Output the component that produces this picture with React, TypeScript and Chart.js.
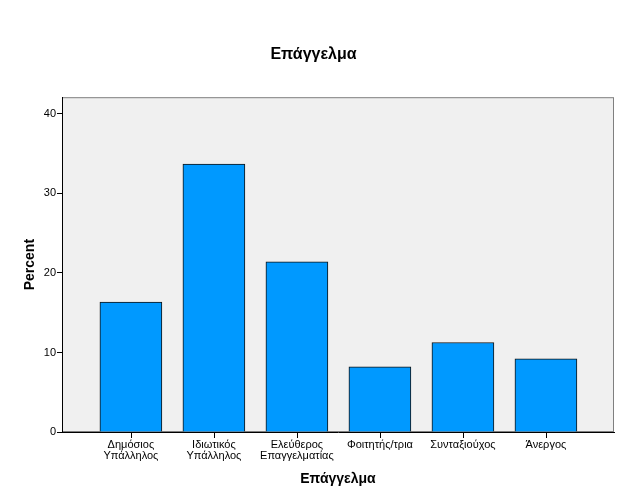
import React, { useEffect, useRef } from "react";
import { Chart, registerables } from "chart.js";

Chart.register(...registerables);

const categories: string[][] = [
  ["Δημόσιος", "Υπάλληλος"],
  ["Ιδιωτικός", "Υπάλληλος"],
  ["Ελεύθερος", "Επαγγελματίας"],
  ["Φοιτητής/τρια"],
  ["Συνταξιούχος"],
  ["Άνεργος"],
];
const percentValues: number[] = [16.35, 33.7, 21.4, 8.2, 11.25, 9.2];
const yTicks: number[] = [0, 10, 20, 30, 40];

const FONT = "'Liberation Sans', Arial, sans-serif";

const plotFrame = {
  id: "plotFrame",
  beforeDraw(chart: any) {
    const { ctx, chartArea } = chart;
    if (!chartArea) return;
    ctx.save();
    ctx.fillStyle = "#f0f0f0";
    ctx.fillRect(chartArea.left, chartArea.top, chartArea.right - chartArea.left, chartArea.bottom - chartArea.top);
    ctx.strokeStyle = "#7f7f7f";
    ctx.lineWidth = 1;
    ctx.strokeRect(chartArea.left + 0.5, chartArea.top + 0.5, chartArea.right - chartArea.left - 1, chartArea.bottom - chartArea.top - 1);
    ctx.restore();
  },
  afterDraw(chart: any) {
    const { ctx, chartArea } = chart;
    const xs = chart.scales.x;
    if (!chartArea || !xs) return;
    ctx.save();
    ctx.fillStyle = "#000";
    categories.forEach((_, i) => {
      const px = Math.round(xs.getPixelForValue(i));
      ctx.fillRect(px, Math.round(chartArea.bottom), 1, 6);
    });
    ctx.restore();
  },
};

export default function App() {
  const ref = useRef<HTMLCanvasElement | null>(null);
  useEffect(() => {
    if (!ref.current) return;
    const chart = new Chart(ref.current, {
      type: "bar",
      data: {
        datasets: [
          {
            data: percentValues.map((v, i) => ({ x: i, y: v })),
            backgroundColor: "#0099ff",
            borderColor: "#111111",
            borderWidth: 1,
            barThickness: 62,
          },
        ],
      },
      plugins: [plotFrame],
      options: {
        responsive: false,
        animation: false,
        layout: { padding: { left: 0, right: 0, top: 0, bottom: 0 } },
        plugins: {
          legend: { display: false },
          tooltip: { enabled: false },
          title: {
            display: true,
            text: "Επάγγελμα",
            color: "#000",
            font: { family: FONT, size: 16, weight: "bold", lineHeight: 1.2 },
            padding: { top: 45, bottom: 33 },
          },
        },
        scales: {
          x: {
            type: "linear",
            min: -0.83,
            max: 5.82,
            offset: false,
            afterFit: (s: any) => {
              s.height = 70;
            },
            ticks: {
              stepSize: 1,
              includeBounds: false,
              autoSkip: false,
              maxRotation: 0,
              minRotation: 0,
              padding: 2,
              color: "#000",
              font: { family: FONT, size: 11, lineHeight: 1.05 },
              callback: (v: any) => {
                const i = Math.round(Number(v));
                return Math.abs(Number(v) - i) < 1e-6 && categories[i] ? categories[i] : "";
              },
            },
            grid: {
              display: true,
              offset: false,
              drawOnChartArea: false,
              drawTicks: true,
              tickLength: 5,
              tickColor: "rgba(0,0,0,0)",
            },
            border: { display: true, color: "#000", width: 1 },
            title: {
              display: true,
              text: "Επάγγελμα",
              color: "#000",
              font: { family: FONT, size: 14, weight: "bold", lineHeight: 1.2 },
              padding: { top: 0, bottom: 14 },
            },
          },
          y: {
            min: 0,
            max: 42.1,
            afterFit: (s: any) => {
              s.width = 62;
            },
            afterBuildTicks: (s: any) => {
              s.ticks = yTicks.map((v) => ({ value: v }));
            },
            ticks: {
              stepSize: 10,
              includeBounds: false,
              padding: 1,
              color: "#000",
              font: { family: FONT, size: 11 },
            },
            grid: {
              display: true,
              drawOnChartArea: false,
              drawTicks: true,
              tickLength: 5,
              tickColor: "#000",
            },
            border: { display: true, color: "#000", width: 1 },
            title: {
              display: true,
              text: "Percent",
              color: "#000",
              font: { family: FONT, size: 14, weight: "bold", lineHeight: 1.2 },
              padding: { top: 22, bottom: 0 },
            },
          },
          spacer: {
            type: "linear",
            position: "right",
            display: true,
            afterFit: (s: any) => {
              s.width = 13;
            },
            ticks: { display: false },
            grid: { display: false, drawTicks: false },
            border: { display: false },
          },
        },
      },
    } as any);
    return () => chart.destroy();
  }, []);
  return (
    <div style={{ position: "fixed", left: 0, top: 0, width: 627, height: 502, background: "#fff" }}>
      <canvas ref={ref} width={627} height={502} style={{ display: "block" }} />
    </div>
  );
}
